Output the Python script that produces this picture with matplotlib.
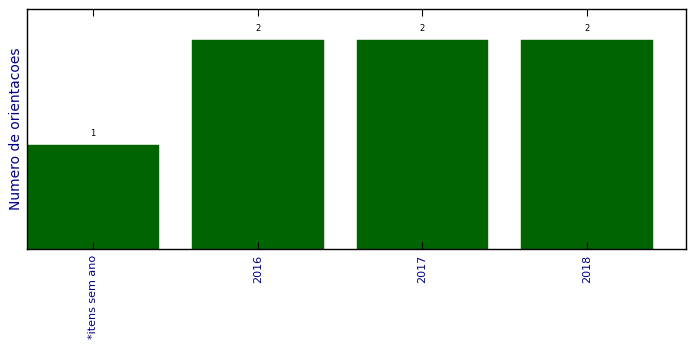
import matplotlib
matplotlib.use("Agg")
import matplotlib.pyplot as plt

categories = ["*itens sem ano", "2016", "2017", "2018"]
values = [1, 2, 2, 2]

fig = plt.figure(figsize=(6.96, 3.49), dpi=100)
ax = fig.add_axes([27/696, 1-249/349, (686-27)/696, (249-9)/349])
x = list(range(len(categories)))
ax.bar(x, values, width=0.8, color="#006400", edgecolor="#006400", linewidth=0.3)
for xi, v in zip(x, values):
    ax.annotate(str(v), (xi, v), xytext=(0, 5), textcoords="offset points",
                ha="center", va="bottom", fontsize=6)
ax.set_xlim(-0.4, 3.6)
ax.set_ylim(0, 2.3)
ax.set_xticks(x)
ax.set_xticklabels(categories, rotation=90, fontsize=8, color="darkblue")
ax.set_yticks([])
ax.tick_params(axis="x", direction="in", top=True, length=5, width=0.8, pad=4)
ax.set_ylabel("Numero de orientacoes", fontsize=10, color="darkblue", labelpad=3)
for s in ax.spines.values():
    s.set_linewidth(1.0)
fig.savefig("out.png", dpi=100)
